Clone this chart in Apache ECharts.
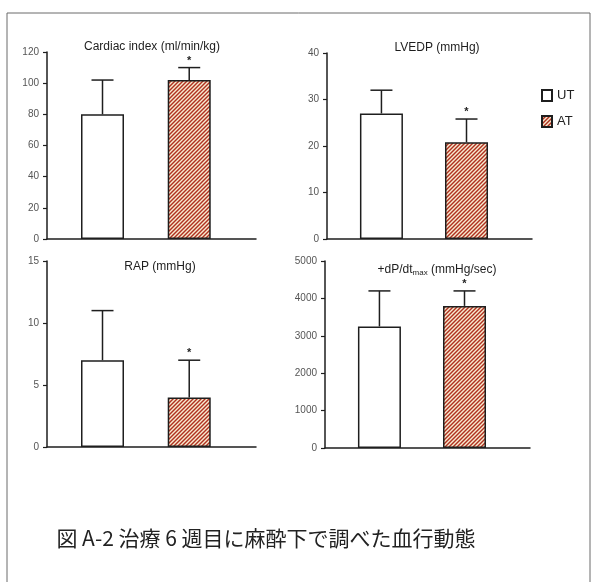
<!DOCTYPE html>
<html>
<head>
<meta charset="utf-8">
<script src="https://cdn.jsdelivr.net/npm/echarts@6/dist/echarts.min.js"></script>
<style>
  html, body { margin: 0; padding: 0; background: #ffffff; }
  #chart { width: 593px; height: 582px; }
</style>
</head>
<body>
<div id="chart"></div>
<script>
// Haemodynamics measured under anaesthesia at week 6 of treatment
var groups = ['UT', 'AT'];
var panelTitles = ['Cardiac index (ml/min/kg)', 'LVEDP (mmHg)', 'RAP (mmHg)', '+dP/dt{sub|max} (mmHg/sec)'];
var utMean = [80, 27, 7, 3250];
var utSD   = [22, 5, 4, 950];
var atMean = [102, 20.8, 4, 3800];
var atSD   = [8, 5, 3, 400];
var atSignificant = [true, true, true, true];
var yMax      = [120, 40, 15, 5000];
var yInterval = [20, 10, 5, 1000];
var caption = '図 A-2 治療 6 週目に麻酔下で調べた血行動態';

// panel placement
var grids = [
  { left: 47,  top: 52,  width: 209, height: 187 },
  { left: 327, top: 53,  width: 205, height: 186 },
  { left: 47,  top: 261, width: 209, height: 186 },
  { left: 325, top: 261, width: 205, height: 187 }
];
var titlePos = [[152, 47], [437, 48], [160, 267], [437, 270]];

// diagonal hatch fill for the treated group
function hatchPattern() {
  var c = document.createElement('canvas');
  c.width = 4; c.height = 4;
  var ctx = c.getContext('2d');
  ctx.fillStyle = '#f8ead0';
  ctx.fillRect(0, 0, 4, 4);
  ctx.strokeStyle = '#b0301f';
  ctx.lineWidth = 1.4;
  for (var k = -4; k <= 4; k += 4) {
    ctx.beginPath();
    ctx.moveTo(-1 + k, 5);
    ctx.lineTo(5 + k, -1);
    ctx.stroke();
  }
  return { image: c, repeat: 'repeat' };
}
var hatch = hatchPattern();

var ink = '#1e1e1e';
var xAxes = [], yAxes = [], series = [], graphics = [];

grids.forEach(function (g, i) {
  xAxes.push({
    type: 'value', gridIndex: i, min: -0.64, max: 1.77,
    axisLine: { show: true, onZero: false, lineStyle: { color: ink, width: 1.5 } },
    axisTick: { show: false }, axisLabel: { show: false }, splitLine: { show: false }
  });
  yAxes.push({
    type: 'value', gridIndex: i, min: 0, max: yMax[i], interval: yInterval[i],
    axisLine: { show: true, onZero: false, lineStyle: { color: ink, width: 1.5 } },
    axisTick: { show: true, length: 4, lineStyle: { color: ink, width: 1.2 } },
    axisLabel: { color: '#555', fontSize: 10, margin: 8, fontFamily: 'Liberation Sans, Arial, sans-serif',
                 formatter: function (v) { return String(v); } },
    splitLine: { show: false }
  });

  series.push({
    name: groups[0], type: 'bar', xAxisIndex: i, yAxisIndex: i,
    barWidth: 43, barGap: '-100%',
    itemStyle: { color: '#ffffff', borderColor: ink, borderWidth: 1.5 },
    data: [[0, utMean[i]]], z: 2
  });
  series.push({
    name: groups[1], type: 'bar', xAxisIndex: i, yAxisIndex: i,
    barWidth: 43, barGap: '-100%',
    itemStyle: { color: hatch, borderColor: ink, borderWidth: 1.5 },
    data: [[1, atMean[i]]], z: 2
  });
  // error bars (mean + SD) with significance markers
  series.push({
    type: 'custom', xAxisIndex: i, yAxisIndex: i, z: 3, silent: true,
    data: [[0, utMean[i], utMean[i] + utSD[i], 0], [1, atMean[i], atMean[i] + atSD[i], atSignificant[i] ? 1 : 0]],
    renderItem: function (params, api) {
      var p0 = api.coord([api.value(0), api.value(1)]);
      var p1 = api.coord([api.value(0), api.value(2)]);
      var half = 11;
      var children = [
        { type: 'line', shape: { x1: p0[0], y1: p0[1], x2: p1[0], y2: p1[1] }, style: { stroke: ink, lineWidth: 1.5 } },
        { type: 'line', shape: { x1: p1[0] - half, y1: p1[1], x2: p1[0] + half, y2: p1[1] }, style: { stroke: ink, lineWidth: 1.5 } }
      ];
      if (api.value(3)) {
        children.push({
          type: 'text',
          style: { text: '*', x: p1[0], y: p1[1] - 7, align: 'center', verticalAlign: 'middle',
                   font: 'bold 11px Liberation Sans, Arial, sans-serif', fill: ink }
        });
      }
      return { type: 'group', children: children };
    }
  });

  graphics.push({
    type: 'text', x: titlePos[i][0], y: titlePos[i][1],
    style: {
      text: panelTitles[i], align: 'center', verticalAlign: 'middle',
      font: '12px Liberation Sans, Arial, sans-serif', fill: ink,
      rich: { sub: { fontSize: 8, verticalAlign: 'bottom', padding: [6, 0, 0, 0], fill: ink, fontFamily: 'Liberation Sans, Arial, sans-serif' } }
    }
  });
});

// outer frame and caption
graphics.push({
  type: 'rect', shape: { x: 7, y: 13, width: 583, height: 600 },
  style: { fill: 'none', stroke: '#6a6a6a', lineWidth: 1 }, z: -1
});
graphics.push({
  type: 'text', x: 266, y: 538,
  style: { text: caption, align: 'center', verticalAlign: 'middle',
           font: '21px "Noto Sans CJK JP", sans-serif', fill: '#222' }
});

var chart = echarts.init(document.getElementById('chart'), null, { renderer: 'canvas' });
chart.setOption({
  animation: false,
  backgroundColor: '#ffffff',
  grid: grids,
  xAxis: xAxes,
  yAxis: yAxes,
  legend: {
    data: groups, orient: 'vertical', left: 536, top: 84, icon: 'rect',
    itemWidth: 10, itemHeight: 11, itemGap: 13,
    textStyle: { fontSize: 13, color: '#222', fontFamily: 'Liberation Sans, Arial, sans-serif' }
  },
  series: series,
  graphic: graphics
});
</script>
</body>
</html>
